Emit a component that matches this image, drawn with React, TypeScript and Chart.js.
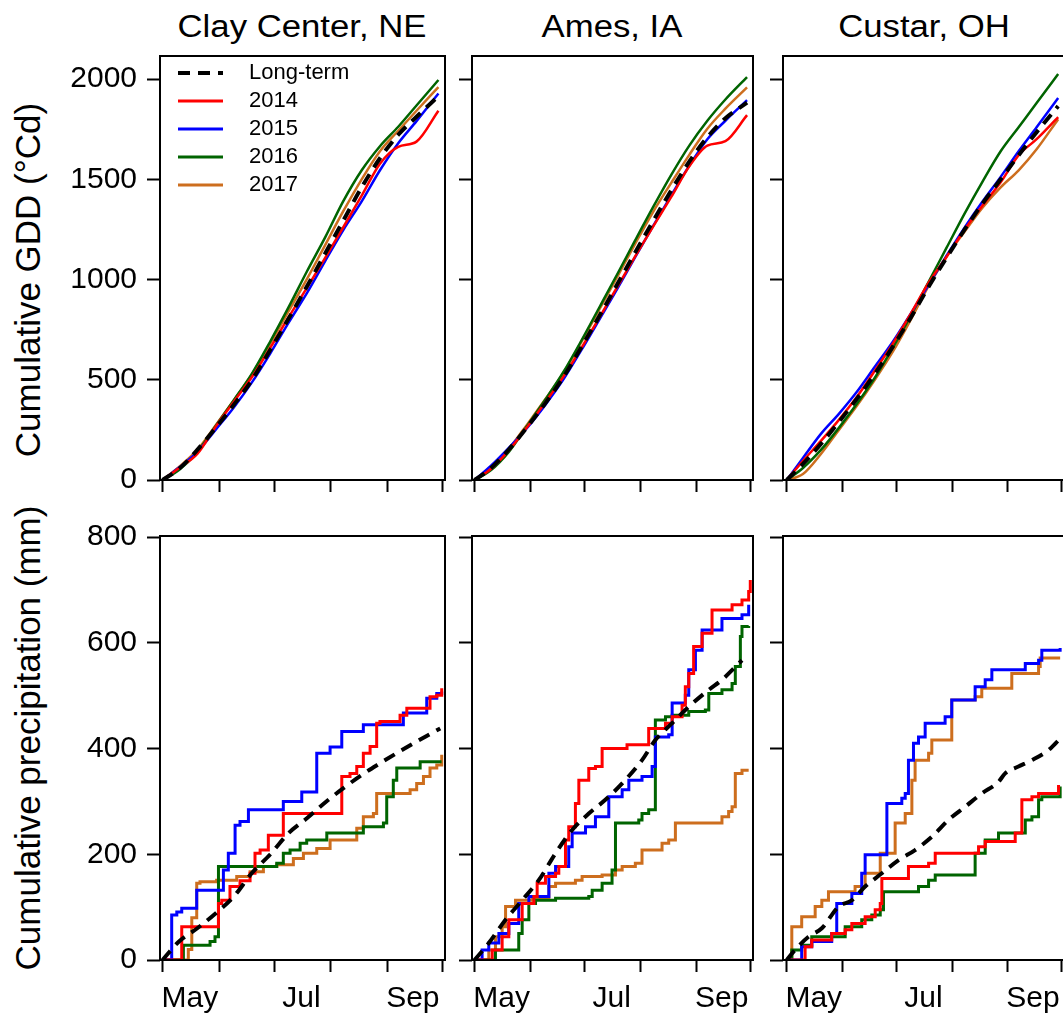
import React, { useEffect, useRef } from "react";
import { Chart, registerables } from "chart.js";

Chart.register(...registerables);

const FONT = "'Liberation Sans', Arial, Helvetica, sans-serif";

// ---------- labels / categories ----------
const siteNames = ["Clay Center, NE", "Ames, IA", "Custar, OH"];
const seriesLabels = ["Long-term", "2014", "2015", "2016", "2017"];
const seriesColors = ["#000000", "#ff0000", "#0000ff", "#006400", "#cd6e1e"];
const monthStartDays = [121, 152, 182, 213, 244, 274];
const monthLabelDays = [136, 197, 258];
const monthLabels = ["May", "Jul", "Sep"];
const gddTicks = [0, 500, 1000, 1500, 2000];
const precipTicks = [0, 200, 400, 600, 800];
const gddTitle = "Cumulative GDD (°Cd)";
const precipTitle = "Cumulative precipitation (mm)";

// ---------- cumulative GDD (day of year -> °Cd) ----------
const gddDays = [121, 130, 140, 150, 160, 170, 180, 190, 200, 210, 220, 230, 240, 250, 260, 272];

const clayGddLongTerm = [0, 55, 150, 260, 375, 500, 650, 805, 965, 1130, 1295, 1460, 1605, 1722, 1812, 1915];
const clayGdd2014 = [0, 60, 130, 265, 390, 515, 660, 812, 958, 1108, 1262, 1418, 1578, 1662, 1688, 1842];
const clayGdd2015 = [0, 62, 140, 250, 362, 488, 632, 785, 932, 1092, 1248, 1390, 1545, 1680, 1790, 1928];
const clayGdd2016 = [0, 50, 140, 268, 398, 532, 692, 862, 1040, 1210, 1392, 1545, 1665, 1762, 1868, 1995];
const clayGdd2017 = [0, 65, 150, 272, 398, 528, 682, 842, 1002, 1172, 1342, 1500, 1640, 1742, 1842, 1960];

const amesGddLongTerm = [0, 58, 152, 262, 380, 510, 660, 815, 975, 1135, 1292, 1445, 1588, 1710, 1805, 1882];
const amesGdd2014 = [0, 55, 148, 262, 385, 512, 655, 808, 962, 1115, 1265, 1412, 1565, 1668, 1690, 1820];
const amesGdd2015 = [0, 70, 160, 258, 372, 498, 645, 798, 952, 1112, 1268, 1420, 1568, 1700, 1792, 1895];
const amesGdd2016 = [0, 48, 140, 268, 398, 535, 692, 858, 1025, 1195, 1362, 1522, 1668, 1792, 1898, 2010];
const amesGdd2017 = [0, 55, 155, 275, 400, 530, 685, 848, 1012, 1178, 1338, 1482, 1622, 1752, 1852, 1958];

const custarGddLongTerm = [0, 80, 180, 290, 405, 530, 665, 810, 965, 1110, 1250, 1380, 1500, 1620, 1735, 1865];
const custarGdd2014 = [0, 95, 195, 300, 415, 545, 680, 830, 985, 1115, 1250, 1370, 1485, 1620, 1700, 1810];
const custarGdd2015 = [0, 110, 230, 330, 440, 565, 690, 830, 975, 1120, 1260, 1390, 1512, 1640, 1760, 1905];
const custarGdd2016 = [0, 60, 150, 260, 380, 510, 660, 820, 990, 1160, 1330, 1490, 1640, 1760, 1880, 2025];
const custarGdd2017 = [0, 30, 130, 250, 370, 500, 640, 800, 970, 1115, 1240, 1360, 1460, 1545, 1650, 1800];

// ---------- cumulative precipitation ([day of year, mm]) ----------
const clayPrecipLongTerm = [[121, 0], [130, 35], [140, 60], [150, 88], [160, 120], [170, 165], [180, 200], [190, 240], [200, 268], [210, 298], [220, 325], [230, 350], [240, 372], [250, 393], [260, 413], [273, 438]];
const clayPrecip2014 = [[121, 0], [131.5, 63], [151.6, 107], [153.4, 113], [157.9, 139], [163.4, 150], [168.9, 164], [171.6, 202], [174.4, 208], [178.9, 236], [187.1, 277], [219.1, 347], [223.6, 353], [227.3, 366], [230.9, 391], [234.6, 404], [238.2, 448], [240, 451], [251, 463], [254.7, 476], [267.4, 498], [271.1, 501], [273.8, 514]];
const clayPrecip2015 = [[121, 0], [126, 85], [128.8, 91], [131.5, 98], [139.7, 132], [154.3, 170], [157, 202], [160.7, 255], [163.4, 262], [168, 284], [187.1, 300], [197.2, 318], [205.4, 391], [212.7, 403], [219.1, 432], [230.9, 445], [252.8, 467], [265.6, 495], [271.1, 504], [273.8, 508]];
const clayPrecip2016 = [[121, 0], [132.4, 28], [147, 35], [149.7, 44], [151.6, 177], [183.5, 183], [187.1, 202], [190.8, 208], [196.3, 221], [199.9, 227], [210.9, 240], [230.9, 252], [241.9, 259], [243.7, 309], [247.3, 340], [249.2, 363], [262, 375], [272.9, 378]];
const clayPrecip2017 = [[121, 0], [135.1, 20], [137, 80], [139.7, 145], [141.5, 148], [150.6, 151], [161.6, 158], [168.9, 167], [176.2, 177], [183.5, 180], [192.6, 192], [198.1, 202], [205.4, 211], [212.7, 227], [227.3, 249], [230.9, 271], [236.4, 277], [238.2, 315], [256.5, 322], [260.1, 334], [263.8, 347], [267.4, 363], [271.1, 369], [273.8, 388]];

const amesPrecipLongTerm = [[121, 0], [128.9, 32], [138.2, 76], [147.4, 113], [156.6, 151], [165.9, 202], [175.1, 246], [184.3, 277], [193.5, 303], [202.8, 334], [213.8, 378], [221.2, 416], [230.5, 448], [239.7, 479], [250.8, 511], [258.1, 530], [269.2, 567]];
const amesPrecip2014 = [[121, 0], [130.8, 19], [136.3, 44], [140, 76], [147.4, 107], [153.9, 120], [155.7, 145], [160.3, 158], [165.9, 164], [167.7, 177], [171.4, 227], [173.2, 252], [176.9, 296], [178.8, 340], [184.3, 362], [188, 366], [191.7, 400], [205.5, 407], [217.5, 438], [226.8, 448], [230.5, 460], [236, 482], [237.8, 517], [239.7, 542], [242.4, 593], [247.1, 618], [252.6, 662], [263.7, 672], [269.2, 681], [272.9, 697], [273.8, 719]];
const amesPrecip2015 = [[121, 0], [125.2, 19], [128.9, 32], [134.5, 50], [140, 69], [145.5, 107], [151.1, 120], [162.2, 164], [165.9, 177], [173.2, 214], [175.1, 240], [182.5, 252], [188, 271], [195.4, 309], [202.8, 322], [206.5, 340], [213.8, 347], [219.4, 366], [221.2, 422], [228.6, 426], [230.5, 486], [237.8, 501], [239.7, 549], [243.4, 586], [247.1, 624], [258.1, 646], [269.2, 653], [272.9, 672]];
const amesPrecip2016 = [[121, 0], [132.6, 19], [145.5, 50], [147.4, 76], [151.1, 107], [154.8, 113], [165.9, 117], [184.3, 120], [186.2, 132], [191.7, 145], [197.2, 170], [199.1, 259], [212, 265], [213.8, 277], [217.5, 284], [221.2, 454], [226.8, 460], [230.5, 463], [239.7, 470], [248.9, 473], [250.8, 504], [258.1, 511], [263.7, 523], [265.5, 555], [268.3, 612], [269.2, 631], [272.9, 632]];
const amesPrecip2017 = [[121, 0], [128.9, 19], [132.6, 44], [136.3, 63], [138.2, 101], [143.7, 113], [152.9, 117], [162.2, 139], [165.9, 145], [176.9, 151], [180.6, 158], [191.7, 161], [199.1, 170], [202.8, 177], [210.1, 183], [213.8, 208], [224.9, 221], [228.6, 227], [232.3, 259], [258.1, 271], [261.8, 281], [263.7, 290], [265.5, 353], [269.2, 359], [272.9, 359]];

const custarPrecipLongTerm = [[121, 0], [125.6, 19], [133.1, 44], [140.5, 60], [149.8, 101], [157.2, 113], [164.6, 139], [173.9, 164], [183.2, 189], [192.4, 208], [201.7, 233], [211, 265], [220.3, 290], [229.5, 315], [238.8, 337], [242.5, 353], [249.9, 366], [257.4, 378], [266.6, 397], [273.1, 419]];
const custarPrecip2014 = [[121, 0], [131.2, 25], [134.9, 38], [146, 50], [153.5, 57], [157.2, 69], [164.6, 82], [170.2, 95], [173, 107], [173.9, 154], [188.7, 177], [199.9, 183], [203.6, 202], [227.7, 214], [231.4, 224], [248.1, 240], [251.8, 303], [257.4, 309], [261.1, 315], [272.2, 331]];
const custarPrecip2015 = [[121, 0], [129.3, 25], [134.9, 35], [146, 50], [148.8, 107], [157.2, 126], [162.7, 164], [164.6, 199], [176.7, 296], [185, 306], [186.9, 315], [188.7, 378], [191.5, 410], [194.3, 422], [198, 448], [209.1, 460], [212.8, 492], [225.8, 517], [231.4, 530], [235.1, 549], [253.7, 561], [261.1, 567], [262.9, 586], [273.1, 590]];
const custarPrecip2016 = [[121, 0], [123.8, 19], [129.3, 28], [134.9, 44], [153.5, 63], [162.7, 76], [168.3, 85], [173, 95], [174.8, 129], [194.3, 139], [199.9, 151], [203.6, 161], [225.8, 202], [231.4, 227], [238.8, 240], [253.7, 265], [257.4, 271], [261.1, 303], [262.9, 309], [273.1, 328]];
const custarPrecip2017 = [[121, 0], [123.8, 63], [129.3, 82], [136.8, 101], [140.5, 113], [144.2, 129], [159, 139], [164.6, 164], [173, 202], [181.3, 259], [186.9, 277], [190.6, 340], [192.4, 378], [199.9, 391], [201.7, 416], [212.8, 492], [225.8, 498], [229.5, 514], [246.2, 542], [261.1, 555], [262, 571], [273.1, 571]];

const gddBySite = [
  [clayGddLongTerm, clayGdd2014, clayGdd2015, clayGdd2016, clayGdd2017],
  [amesGddLongTerm, amesGdd2014, amesGdd2015, amesGdd2016, amesGdd2017],
  [custarGddLongTerm, custarGdd2014, custarGdd2015, custarGdd2016, custarGdd2017],
];
const precipBySite = [
  [clayPrecipLongTerm, clayPrecip2014, clayPrecip2015, clayPrecip2016, clayPrecip2017],
  [amesPrecipLongTerm, amesPrecip2014, amesPrecip2015, amesPrecip2016, amesPrecip2017],
  [custarPrecipLongTerm, custarPrecip2014, custarPrecip2015, custarPrecip2016, custarPrecip2017],
];

// ---------- layout (pixels) ----------
const boxLeft = [160, 472, 783];
const boxWidth = [285, 281, 282];
const boxTop = [56, 536];
const boxHeight = 424;
const xRanges = [[119.6, 275.6], [119.6, 275.3], [118.9, 275.8]];
const padTop = 30;
const padRight = 12;

function legendSwatch(color: string, dashed: boolean): HTMLCanvasElement {
  const c = document.createElement("canvas");
  c.width = 72;
  c.height = 8;
  const g = c.getContext("2d")!;
  g.strokeStyle = color;
  g.lineWidth = dashed ? 4 : 3;
  g.setLineDash(dashed ? [12, 8] : []);
  g.beginPath();
  g.moveTo(12, 4);
  g.lineTo(57, 4);
  g.stroke();
  return c;
}

const framePlugin = {
  id: "frame",
  afterDatasetsDraw(chart: any) {
    const { ctx, chartArea: a } = chart;
    ctx.save();
    ctx.strokeStyle = "#000";
    ctx.lineWidth = 2;
    ctx.strokeRect(a.left, a.top, a.right - a.left, a.bottom - a.top);
    ctx.restore();
  },
};

// keeps the in-plot legend inside the plotting box (top-left corner)
const legendPlacer = {
  id: "legendPlacer",
  afterLayout(chart: any) {
    const lg = chart.legend;
    if (lg && lg.options && lg.options.display) {
      lg.top = chart.chartArea.top;
      lg.bottom = chart.chartArea.bottom;
      lg.left = chart.chartArea.left;
    }
  },
};

function Panel({ row, col }: { row: number; col: number }) {
  const ref = useRef<HTMLCanvasElement>(null);
  const yAxisW = col === 0 ? 100 : 14;
  const xAxisH = row === 0 ? 30 : 60;
  const width = yAxisW + boxWidth[col] + padRight;
  const height = padTop + boxHeight + xAxisH;
  const left = boxLeft[col] - yAxisW;
  const top = boxTop[row] - padTop;

  useEffect(() => {
    const isGdd = row === 0;
    const datasets = seriesLabels.map((label, i) => {
      const isLT = i === 0;
      const data = isGdd
        ? gddDays.map((d, k) => ({ x: d, y: gddBySite[col][i][k] }))
        : precipBySite[col][i].map((p) => ({ x: p[0], y: p[1] }));
      return {
        label,
        data,
        borderColor: seriesColors[i],
        backgroundColor: seriesColors[i],
        borderWidth: isLT ? 4 : isGdd ? 2.5 : 3,
        borderDash: isLT ? [12, 8] : [],
        pointRadius: 0,
        fill: false,
        stepped: !isGdd && !isLT ? true : false,
        cubicInterpolationMode: "monotone",
      };
    });
    const swatches = seriesLabels.map((_, i) => legendSwatch(seriesColors[i], i === 0));
    const tickFont = { size: 30, family: FONT };
    const chart = new Chart(ref.current!, {
      type: "line",
      data: { datasets } as any,
      plugins: [framePlugin, legendPlacer],
      options: {
        animation: false,
        responsive: false,
        devicePixelRatio: 1,
        events: [],
        layout: { padding: { top: padTop, right: padRight, left: 0, bottom: 0 }, autoPadding: false },
        plugins: {
          tooltip: { enabled: false },
          title: { display: false },
          legend: {
            display: row === 0 && col === 0,
            position: "chartArea",
            align: "start",
            labels: {
              usePointStyle: true,
              pointStyleWidth: 72,
              padding: 6,
              color: "#000",
              font: { size: 22, family: FONT },
              generateLabels: (c: any) =>
                (Chart as any).defaults.plugins.legend.labels
                  .generateLabels(c)
                  .map((it: any, i: number) => ({ ...it, pointStyle: swatches[i] })),
            },
          },
        },
        scales: {
          x: {
            type: "linear",
            min: xRanges[col][0],
            max: xRanges[col][1],
            afterBuildTicks: (s: any) => {
              s.ticks = [...monthStartDays, ...monthLabelDays]
                .sort((a, b) => a - b)
                .map((v) => ({ value: v }));
            },
            afterFit: (s: any) => {
              s.height = xAxisH;
            },
            border: { display: false },
            grid: {
              display: true,
              drawOnChartArea: false,
              drawTicks: true,
              tickLength: 12,
              tickWidth: 2,
              tickColor: (c: any) =>
                c.tick && monthStartDays.includes(c.tick.value) ? "#000" : "rgba(0,0,0,0)",
            },
            ticks: {
              display: row === 1,
              autoSkip: false,
              maxRotation: 0,
              minRotation: 0,
              padding: 9,
              color: "#000",
              font: tickFont,
              callback: (v: any) => {
                const k = monthLabelDays.indexOf(Number(v));
                return k >= 0 ? monthLabels[k] : "";
              },
            },
          },
          y: {
            type: "linear",
            min: 0,
            max: row === 0 ? 2115 : 802,
            afterBuildTicks: (s: any) => {
              s.ticks = (row === 0 ? gddTicks : precipTicks).map((v) => ({ value: v }));
            },
            afterFit: (s: any) => {
              s.width = yAxisW;
            },
            border: { display: false },
            grid: {
              display: true,
              drawOnChartArea: false,
              drawTicks: true,
              tickLength: 13,
              tickWidth: 2,
              tickColor: "#000",
            },
            ticks: {
              display: col === 0,
              padding: 10,
              color: "#000",
              font: tickFont,
              callback: (v: any) => String(v),
            },
          },
        },
      } as any,
    });
    return () => chart.destroy();
  }, [row, col]);

  return (
    <canvas
      ref={ref}
      width={width}
      height={height}
      style={{ position: "absolute", left, top, width, height }}
    />
  );
}

export default function App() {
  const titleCenters = [302, 612, 924];
  return (
    <div
      style={{
        position: "absolute",
        left: 0,
        top: 0,
        width: 1063,
        height: 1017,
        overflow: "hidden",
        background: "#fff",
        fontFamily: FONT,
        color: "#000",
      }}
    >
      {siteNames.map((name, i) => (
        <div
          key={name}
          style={{
            position: "absolute",
            left: titleCenters[i],
            top: 11,
            fontSize: 31,
            lineHeight: "31px",
            whiteSpace: "nowrap",
            transform: "translateX(-50%) scaleX(1.12)",
          }}
        >
          {name}
        </div>
      ))}
      {[
        { text: gddTitle, cy: 280 },
        { text: precipTitle, cy: 738 },
      ].map((t) => (
        <div
          key={t.text}
          style={{
            position: "absolute",
            left: 27,
            top: t.cy,
            fontSize: 35,
            lineHeight: "35px",
            whiteSpace: "nowrap",
            transform: "translate(-50%, -50%) rotate(-90deg)",
          }}
        >
          {t.text}
        </div>
      ))}
      {[0, 1].map((row) =>
        [0, 1, 2].map((col) => <Panel key={`${row}-${col}`} row={row} col={col} />)
      )}
    </div>
  );
}
